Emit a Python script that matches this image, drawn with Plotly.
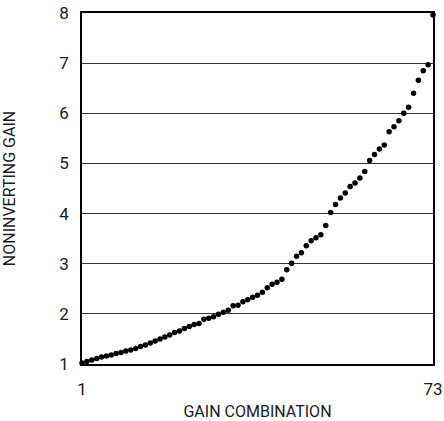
import plotly.graph_objects as go

combination = list(range(1, 74))
gain = [
    1.02, 1.05, 1.08, 1.11, 1.14, 1.16, 1.18, 1.21, 1.23, 1.26,
    1.28, 1.31, 1.35, 1.38, 1.42, 1.46, 1.50, 1.54, 1.58, 1.63,
    1.66, 1.71, 1.75, 1.79, 1.81, 1.89, 1.91, 1.94, 1.99, 2.03,
    2.07, 2.16, 2.17, 2.24, 2.28, 2.33, 2.37, 2.43, 2.52, 2.59,
    2.63, 2.69, 2.88, 3.01, 3.15, 3.22, 3.36, 3.46, 3.52, 3.58,
    3.76, 4.02, 4.18, 4.31, 4.41, 4.54, 4.61, 4.71, 4.84, 5.06,
    5.18, 5.29, 5.37, 5.63, 5.73, 5.85, 6.00, 6.12, 6.40, 6.66,
    6.85, 6.97, 7.96,
]
x_ticks = [1, 73]
y_ticks = [1, 2, 3, 4, 5, 6, 7, 8]

FONT = "Roboto, Arial, sans-serif"

fig = go.Figure(go.Scatter(
    x=combination,
    y=gain,
    mode='markers',
    marker=dict(size=5.5, color='black'),
    cliponaxis=False,
    hoverinfo='x+y'
))

fig.update_layout(
    width=444,
    height=421,
    plot_bgcolor='white',
    paper_bgcolor='white',
    font=dict(family=FONT, size=17, color='#1a1a1a'),
    margin=dict(l=82, r=11, t=13, b=57),
    showlegend=False,
    xaxis=dict(
        range=[1, 73],
        tickvals=x_ticks,
        ticktext=[str(v) for v in x_ticks],
        ticks='outside',
        ticklen=9,
        tickcolor='rgba(0,0,0,0)',
        showgrid=False,
        zeroline=False,
        showline=True,
        linecolor='black',
        linewidth=1.5,
        mirror=True,
        automargin=False,
        title=dict(text='GAIN COMBINATION', standoff=11, font=dict(size=16)),
    ),
    yaxis=dict(
        range=[1, 8],
        tickvals=y_ticks,
        ticks='outside',
        ticklen=8,
        tickcolor='rgba(0,0,0,0)',
        showgrid=True,
        gridcolor='#333333',
        gridwidth=1,
        zeroline=False,
        showline=True,
        linecolor='black',
        linewidth=1.5,
        mirror=True,
        automargin=False,
        title=dict(text='NONINVERTING GAIN', standoff=41, font=dict(size=16)),
    ),
)

# the page's default 8px body margin would push the fixed-size figure off screen
fig.write_html("out.html", config={'displayModeBar': False},
               post_script="document.body.style.margin = '0';")
